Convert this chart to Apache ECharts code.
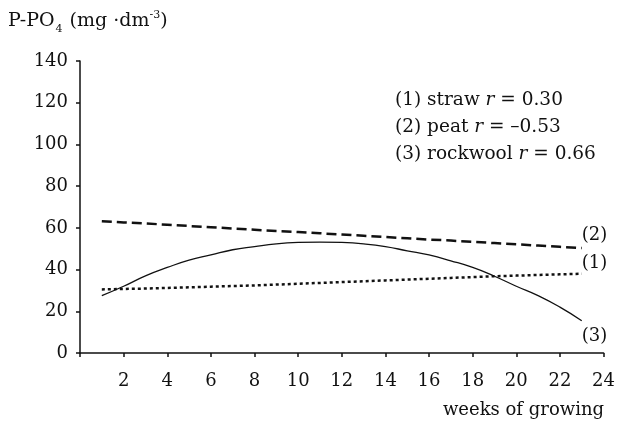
<!DOCTYPE html>
<html>
<head>
<meta charset="UTF-8">
<title>P-PO4 over weeks of growing</title>
<script src="https://cdn.jsdelivr.net/npm/echarts@6/dist/echarts.min.js"></script>
<style>
    html,body{padding:0; margin:0; background:#fff;}
    #main{width:618px; height:424px;}
</style>
</head>
<body>
<div id="main"></div>
<script type="text/javascript">
    // weeks 1..23
    var weeks = [1,2,3,4,5,6,7,8,9,10,11,12,13,14,15,16,17,18,19,20,21,22,23];
    // (1) straw, dotted
    var straw = [30.5,30.7,30.9,31.2,31.5,31.8,32.1,32.4,32.8,33.2,33.6,34.0,34.4,34.8,35.2,35.6,36.0,36.4,36.8,37.1,37.4,37.7,38.0];
    // (2) peat, dashed
    var peat = [63.2,62.6,62.1,61.5,60.9,60.3,59.7,59.1,58.5,58.0,57.4,56.8,56.2,55.6,55.0,54.4,53.9,53.3,52.7,52.1,51.5,50.9,50.3];
    // (3) rockwool, solid
    var rockwool = [27.5,32,37,41,44.5,47,49.5,51,52.3,53,53.2,53,52.3,51,49,47,44.2,41,36.8,32,27.5,22,15.5];
    var legendLines = [
        ['(1) straw ', 'r', ' = 0.30'],
        ['(2) peat ', 'r', ' = \u20130.53'],
        ['(3) rockwool ', 'r', ' = 0.66']
    ];
    var endNames = ['(1)', '(2)', '(3)'];

    var font = 'DejaVu Serif';
    var ink = '#111';

    function pairs(vals) {
        return vals.map(function (v, i) { return [weeks[i], v]; });
    }

    function endLabel(txt, dy) {
        return {
            show: true,
            formatter: txt,
            position: 'right',
            offset: [-8, dy],
            color: ink,
            fontFamily: font,
            fontSize: 18
        };
    }

    var graphics = [{
        type: 'text',
        left: 8,
        top: 7,
        style: {
            text: '{m|P-PO}{sub|4}{m| (mg \u00b7dm}{sup|-3}{m|)}',
            fill: ink,
            rich: {
                m: {fontFamily: font, fontSize: 19, lineHeight: 28, verticalAlign: 'middle', fill: ink},
                sub: {fontFamily: font, fontSize: 11, lineHeight: 10, verticalAlign: 'bottom', fill: ink, padding: [0, 1, 0, 1]},
                sup: {fontFamily: font, fontSize: 11, lineHeight: 14, verticalAlign: 'top', fill: ink, padding: [3, 0, 0, 0]}
            }
        }
    }, {
        type: 'text',
        right: 14,
        top: 401,
        style: {text: 'weeks of growing', fontFamily: font, fontSize: 18, fill: ink}
    }];

    legendLines.forEach(function (l, i) {
        graphics.push({
            type: 'text',
            left: 395,
            top: 91 + i * 27,
            style: {
                text: '{n|' + l[0] + '}{i|' + l[1] + '}{n|' + l[2] + '}',
                rich: {
                    n: {fontFamily: font, fontSize: 18.5, fill: ink},
                    i: {fontFamily: font, fontSize: 18.5, fontStyle: 'italic', fill: ink}
                }
            }
        });
    });

    var myChart = echarts.init(document.getElementById('main'));
    var option = {
        animation: false,
        grid: {left: 80, right: 14, top: 61, bottom: 71},
        graphic: graphics,
        xAxis: {
            type: 'value',
            min: 0,
            max: 24,
            interval: 2,
            splitLine: {show: false},
            axisLine: {lineStyle: {color: ink, width: 1.5}},
            axisTick: {length: 4, lineStyle: {color: ink, width: 1.5}},
            axisLabel: {
                color: ink, fontFamily: font, fontSize: 18, margin: 19,
                formatter: function (v) { return v === 0 ? '' : v; }
            }
        },
        yAxis: {
            type: 'value',
            min: 0,
            max: 140,
            interval: 20,
            splitLine: {show: false},
            axisLine: {show: true, lineStyle: {color: ink, width: 1.5}},
            axisTick: {show: true, length: 4, lineStyle: {color: ink, width: 1.5}},
            axisLabel: {color: ink, fontFamily: font, fontSize: 18, margin: 12}
        },
        series: [{
            name: 'straw',
            type: 'line',
            data: pairs(straw),
            symbol: 'none',
            lineStyle: {color: ink, width: 2.5, type: [3, 3]},
            endLabel: endLabel(endNames[0], -10)
        }, {
            name: 'peat',
            type: 'line',
            data: pairs(peat),
            symbol: 'none',
            lineStyle: {color: ink, width: 2.5, type: [10, 5]},
            endLabel: endLabel(endNames[1], -13)
        }, {
            name: 'rockwool',
            type: 'line',
            data: pairs(rockwool),
            symbol: 'none',
            smooth: true,
            lineStyle: {color: ink, width: 1.3},
            endLabel: endLabel(endNames[2], 16)
        }]
    };
    myChart.setOption(option);
</script>
</body>
</html>
